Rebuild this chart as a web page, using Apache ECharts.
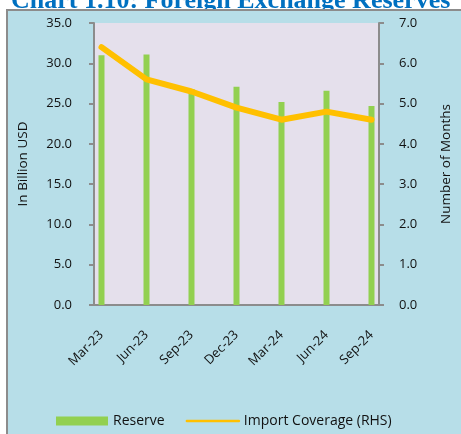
<!DOCTYPE html>
<html><head><meta charset="utf-8">
<script src="https://cdn.jsdelivr.net/npm/echarts@6/dist/echarts.min.js"></script>
<style>html,body{margin:0;padding:0;background:#fff;overflow:hidden}#c{position:absolute;left:0;top:0;width:461px;height:434px}</style>
</head><body><div id="c"></div>
<script>
const chartTitle = 'Chart 1.10: Foreign Exchange Reserves';
// monthly date axis (Excel-style date axis, major unit 3 months)
const months = ['Mar-23','Apr-23','May-23','Jun-23','Jul-23','Aug-23','Sep-23','Oct-23','Nov-23','Dec-23',
                'Jan-24','Feb-24','Mar-24','Apr-24','May-24','Jun-24','Jul-24','Aug-24','Sep-24'];
const quarters = ['Mar-23','Jun-23','Sep-23','Dec-23','Mar-24','Jun-24','Sep-24'];
const reserve = [31.0, 31.1, 26.8, 27.1, 25.2, 26.6, 24.7];          // In Billion USD
const importCoverage = [6.4, 5.6, 5.3, 4.9, 4.6, 4.8, 4.6];           // Number of Months (RHS)
const leftAxisRange = [0, 35, 5];
const rightAxisRange = [0, 7, 1];

const toMonthly = vals => months.map(m => { const i = quarters.indexOf(m); return i >= 0 ? vals[i] : null; });

const axisGray = '#8C8C8C';
const txt = '#111';
const fontFam = '"Open Sans", "Noto Sans", sans-serif';

const chart = echarts.init(document.getElementById('c'), null, {renderer: 'canvas', width: 461, height: 434});
chart.setOption({
  animation: false,
  backgroundColor: '#ffffff',
  textStyle: {fontFamily: fontFam},
  graphic: [
    {type: 'text', z: -20, silent: true, x: 11, y: 14,
     style: {text: chartTitle, font: 'bold 26px "Liberation Serif", "Times New Roman", serif', fill: '#0070C0', verticalAlign: 'bottom', align: 'left'}},
    {type: 'rect', z: -10, silent: true, shape: {x: 7, y: 10, width: 460, height: 430},
     style: {fill: '#B7DEE8', stroke: axisGray, lineWidth: 2}}
  ],
  grid: {left: 94, right: 70, top: 23, bottom: 129, show: true, backgroundColor: '#E5E0EC', borderWidth: 0},
  legend: {
    left: 56, top: 414, padding: 0, itemWidth: 52, itemHeight: 9, itemGap: 21,
    textStyle: {fontSize: 14, color: txt, fontFamily: fontFam},
    data: [
      {name: 'Reserve', icon: 'rect'},
      {name: 'Import Coverage (RHS)', lineStyle: {width: 2.5}, itemStyle: {opacity: 0}}
    ]
  },
  xAxis: {
    type: 'category', data: months, boundaryGap: true,
    axisLine: {lineStyle: {color: axisGray, width: 2}},
    axisTick: {interval: 2, length: 5, lineStyle: {color: axisGray, width: 2}},
    axisLabel: {interval: 2, rotate: 45, margin: 28, fontSize: 13, color: txt, fontFamily: fontFam},
    splitLine: {show: false}
  },
  yAxis: [
    {type: 'value', min: leftAxisRange[0], max: leftAxisRange[1], interval: leftAxisRange[2],
     name: 'In Billion USD', nameLocation: 'middle', nameGap: 64,
     nameTextStyle: {fontSize: 13.5, color: txt, fontFamily: fontFam},
     axisLine: {show: true, lineStyle: {color: axisGray, width: 2}},
     axisTick: {show: true, length: 5, lineStyle: {color: axisGray, width: 2}},
     axisLabel: {margin: 22, fontSize: 13, color: txt, fontFamily: fontFam, formatter: v => v.toFixed(1)},
     splitLine: {show: false}},
    {type: 'value', position: 'right', min: rightAxisRange[0], max: rightAxisRange[1], interval: rightAxisRange[2],
     name: 'Number of Months', nameLocation: 'middle', nameGap: 60,
     nameTextStyle: {fontSize: 13.5, color: txt, fontFamily: fontFam},
     axisLine: {show: true, lineStyle: {color: axisGray, width: 2}},
     axisTick: {show: true, length: 5, lineStyle: {color: axisGray, width: 2}},
     axisLabel: {margin: 20, fontSize: 13, color: txt, fontFamily: fontFam, formatter: v => v.toFixed(1)},
     splitLine: {show: false}}
  ],
  series: [
    {name: 'Reserve', type: 'bar', yAxisIndex: 0, data: toMonthly(reserve), barWidth: 6,
     itemStyle: {color: '#92D050'}},
    {name: 'Import Coverage (RHS)', type: 'line', yAxisIndex: 1, data: toMonthly(importCoverage),
     connectNulls: true, symbol: 'none', z: 3,
     lineStyle: {color: '#FFC000', width: 6, cap: 'round', join: 'round'},
     itemStyle: {color: '#FFC000'}}
  ]
});
</script></body></html>
